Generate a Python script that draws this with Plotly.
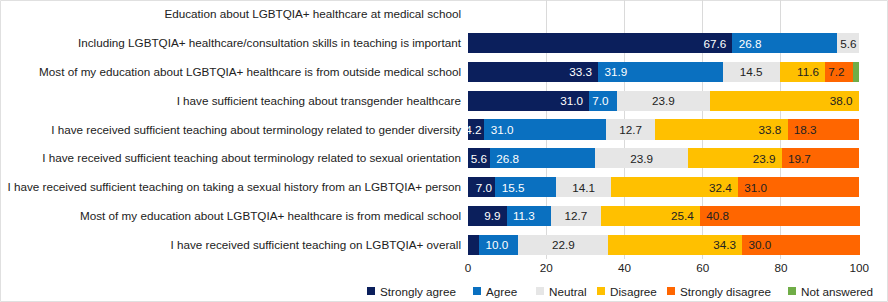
import plotly.graph_objects as go

categories = [
    "Education about LGBTQIA+ healthcare at medical school",
    "Including LGBTQIA+ healthcare/consultation skills in teaching is important",
    "Most of my education about LGBTQIA+ healthcare is from outside medical school",
    "I have sufficient teaching about transgender healthcare",
    "I have received sufficient teaching about terminology related to gender diversity",
    "I have received sufficient teaching about terminology related to sexual orientation",
    "I have received sufficient teaching on taking a sexual history from an LGBTQIA+ person",
    "Most of my education about LGBTQIA+ healthcare is from medical school",
    "I have received sufficient teaching on LGBTQIA+ overall",
]

series_names = ["Strongly agree", "Agree", "Neutral", "Disagree", "Strongly disagree", "Not answered"]

strongly_agree = [None, 67.6, 33.3, 31.0, 4.2, 5.6, 7.0, 9.9, 2.9]
agree = [None, 26.8, 31.9, 7.0, 31.0, 26.8, 15.5, 11.3, 10.0]
neutral = [None, 5.6, 14.5, 23.9, 12.7, 23.9, 14.1, 12.7, 22.9]
disagree = [None, 0, 11.6, 38.0, 33.8, 23.9, 32.4, 25.4, 34.3]
strongly_disagree = [None, 0, 7.2, 0, 18.3, 19.7, 31.0, 40.8, 30.0]
not_answered = [None, 0, 1.4, 0, 0, 0, 0, 0, 0]

x_ticks = [0, 20, 40, 60, 80, 100]

series_values = [strongly_agree, agree, neutral, disagree, strongly_disagree, not_answered]
colors = ["#0B1F5C", "#0A70C0", "#E6E6E6", "#FFC000", "#FF6600", "#70AD47"]
text_colors = ["#FFFFFF", "#FFFFFF", "#222222", "#222222", "#222222", "#222222"]
anchors = ["end", "start", "middle", "end", "start", "middle"]

FONT = "Liberation Sans, Arial, sans-serif"
FS = 11.7

fig = go.Figure()
for name, vals, col, tcol, anc in zip(series_names, series_values, colors, text_colors, anchors):
    labels = []
    for v in vals:
        if v is None or v < 3.5:
            labels.append("")
        else:
            s = f"{v:.1f}"
            if v >= 8:
                if anc == "end":
                    s = s + " "
                elif anc == "start":
                    s = " " + s
            labels.append(s)
    fig.add_trace(go.Bar(
        y=categories, x=vals, name=name, orientation="h",
        marker=dict(color=col, line=dict(width=0)),
        text=labels, texttemplate="%{text}",
        textposition="inside", insidetextanchor=anc, textangle=0,
        textfont=dict(color=tcol, size=FS, family=FONT),
        cliponaxis=False,
        showlegend=False, hoverinfo="x+name",
    ))

# plot geometry (pixels)
W, H = 888, 302
ML, MR, MT, MB = 468, 28, 0, 43
PW = W - ML - MR
PH = H - MT - MB

def px_x(px):
    return (px - ML) / PW

def px_y(py):
    return (MT + PH - py) / PH

shapes = []
annotations = []
# manual legend
legend_sq_px = [367, 473, 536, 597, 667, 788]
for name, col, sx in zip(series_names, colors, legend_sq_px):
    shapes.append(dict(type="rect", xref="paper", yref="paper",
                       x0=px_x(sx), x1=px_x(sx + 8), y0=px_y(295), y1=px_y(287),
                       fillcolor=col, line=dict(width=0), layer="above"))
    annotations.append(dict(xref="paper", yref="paper", x=px_x(sx + 11), y=px_y(291),
                            xanchor="left", yanchor="middle", showarrow=False,
                            text=name, font=dict(size=FS, color="#222222", family=FONT)))

# figure frame
shapes.append(dict(type="rect", xref="paper", yref="paper",
                   x0=px_x(0.5), x1=px_x(W - 0.5), y0=px_y(H - 0.5), y1=px_y(0.5),
                   line=dict(color="#E0E0E0", width=1), fillcolor="rgba(0,0,0,0)", layer="below"))

fig.update_layout(
    barmode="stack",
    bargap=0.3,
    width=W, height=H,
    margin=dict(l=ML, r=MR, t=MT, b=MB, pad=0),
    paper_bgcolor="white", plot_bgcolor="white",
    font=dict(family=FONT, size=FS, color="#222222"),
    uniformtext=dict(minsize=FS, mode="show"),
    shapes=shapes, annotations=annotations,
    showlegend=False,
)
fig.update_xaxes(range=[0, 100.2], tickvals=x_ticks, showgrid=True, gridcolor="#DADADA",
                 gridwidth=1, zeroline=False, showline=False, ticks="",
                 tickfont=dict(size=FS, color="#222222", family=FONT), automargin=False,
                 fixedrange=True)
fig.update_yaxes(autorange="reversed", showgrid=False, zeroline=False, showline=False,
                 ticks="", ticklabelstandoff=6,
                 tickfont=dict(size=FS, color="#222222", family=FONT), automargin=False,
                 fixedrange=True)

fig.write_html("out.html", config={"displayModeBar": False},
               post_script="document.body.style.margin='0';document.body.style.overflow='hidden';")
